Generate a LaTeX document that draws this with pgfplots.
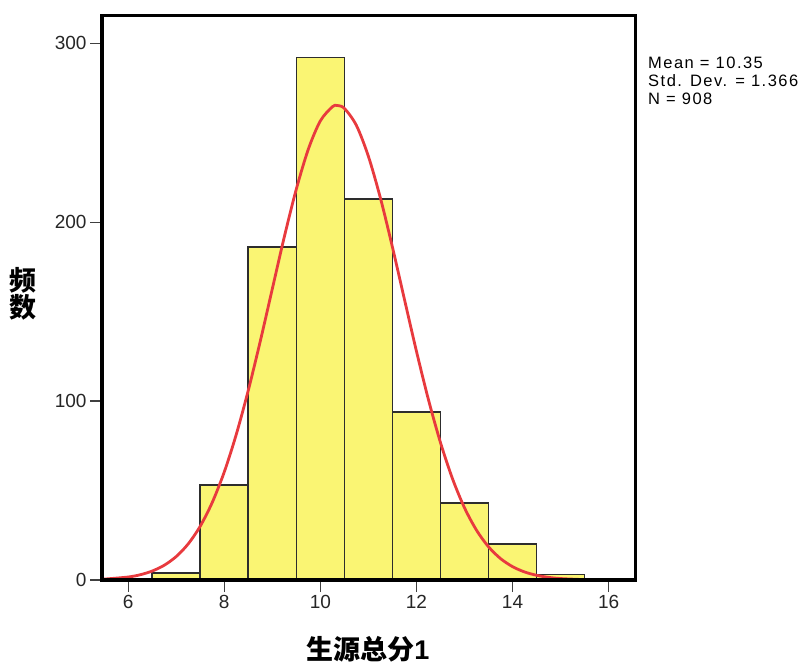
\documentclass[border=0pt]{standalone}
\usepackage{pgfplots}
\pgfplotsset{compat=1.18}
\usepackage{fontspec}
\setmainfont{Liberation Sans}
\newfontfamily\cjk{Noto Sans CJK SC}
\newfontfamily\annot[LetterSpace=9]{Liberation Sans}
\definecolor{barfill}{RGB}{250,245,115}
\definecolor{baredge}{RGB}{45,45,45}
\definecolor{curvered}{RGB}{232,58,62}
\begin{document}
\begin{tikzpicture}[x=1pt,y=1pt]
\path[use as bounding box] (0,0) rectangle (809,664);
\begin{axis}[
  at={(102pt,84pt)}, anchor=south west,
  scale only axis, width=533.5pt, height=564.5pt,
  xmin=5.455, xmax=16.56, ymin=0, ymax=315.5,
  axis on top,
  axis line style={line width=3.8pt, black, line cap=rect},
  xtick={6,8,...,16}, ytick={0,100,200,300},
  tick align=outside, xtick pos=bottom, ytick pos=left,
  major tick length=12pt,
  tick style={line width=1.2pt, color=black!75},
  ticklabel style={font=\fontsize{19}{22}\selectfont, text=black!85},
  /pgf/number format/assume math mode=true,
]
\addplot[ybar, bar width=1, bar shift=0pt, fill=barfill, draw=baredge, line width=1.6pt]
  coordinates {(7,4) (8,53) (9,186) (10,292) (11,213) (12,94) (13,43) (14,20) (15,3)};
\addplot[smooth, curvered, line width=2.8pt] coordinates {
(5.5,0.49) (6.0,1.67) (6.25,2.93) (6.5,5.00) (6.75,8.23) (7.0,13.11) (7.25,20.19)
(7.5,30.08) (7.75,43.35) (8.0,60.37) (8.25,81.36) (8.5,106.0) (8.75,133.5)
(9.0,162.7) (9.25,191.8) (9.5,218.5) (9.75,240.8) (10.0,256.6) (10.25,264.5)
(10.35,265.2) (10.5,263.6) (10.75,254.1) (11.0,236.8) (11.25,213.5) (11.5,186.1)
(11.75,156.9) (12.0,127.9) (12.25,100.8) (12.5,76.85) (12.75,56.65) (13.0,40.39)
(13.25,27.85) (13.5,18.57) (13.75,11.98) (14.0,7.47) (14.25,4.50) (14.5,2.63)
(14.75,1.48) (15.0,0.81) (15.5,0.22) (16.0,0.05) (16.5,0.01)};
\end{axis}
\node[anchor=center, align=center, font=\cjk\bfseries\fontsize{27}{27}\selectfont] at (23,370) {频\\数};
\node[anchor=center, font=\bfseries\fontsize{27}{30}\selectfont] at (368,15) {{\cjk 生源总分}1};
\node[anchor=base west, align=left, font=\annot\fontsize{16.5}{18}\selectfont, inner sep=0pt] at (648,559) {Mean = 10.35\\Std. Dev. = 1.366\\N = 908};
\end{tikzpicture}
\end{document}
